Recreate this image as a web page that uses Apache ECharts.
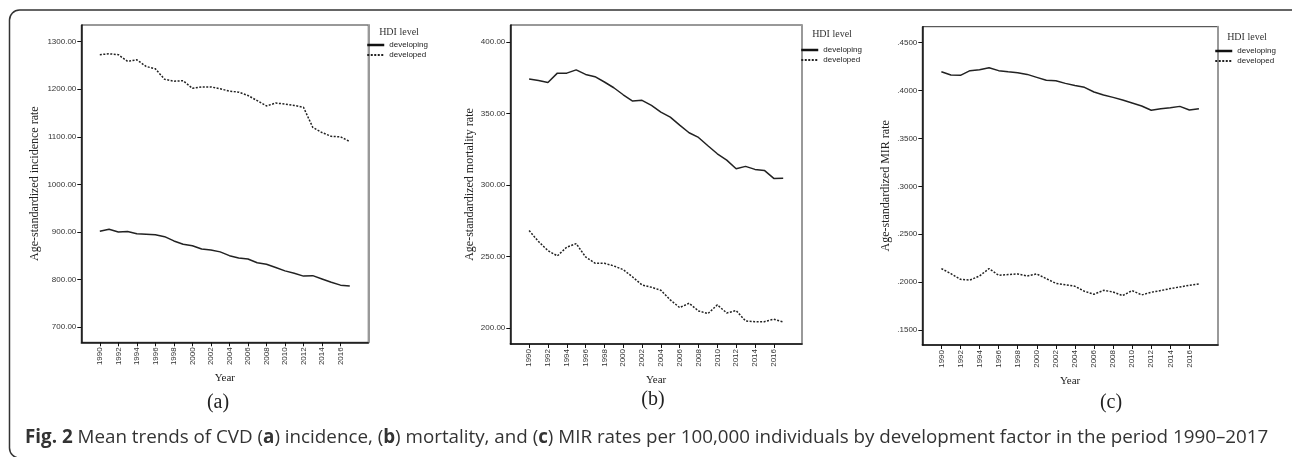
<!DOCTYPE html>
<html>
<head>
<meta charset="utf-8">
<script src="https://cdn.jsdelivr.net/npm/echarts@6/dist/echarts.min.js"></script>
<style>
  html, body { margin: 0; padding: 0; background: #fff; }
  #chart { width: 1292px; height: 457px; }
</style>
</head>
<body>
<div id="chart"></div>
<script>
var years = [1990, 1991, 1992, 1993, 1994, 1995, 1996, 1997, 1998, 1999, 2000, 2001, 2002, 2003,
             2004, 2005, 2006, 2007, 2008, 2009, 2010, 2011, 2012, 2013, 2014, 2015, 2016, 2017];
var yearTicks = [1990, 1992, 1994, 1996, 1998, 2000, 2002, 2004, 2006, 2008, 2010, 2012, 2014, 2016];

var incidenceDeveloping = [901.4, 905.5, 900, 901, 896, 895, 894, 890, 881, 874, 871, 864, 862, 858,
                           850, 845, 843, 835, 832, 825, 818, 813, 807, 808, 801, 794, 788, 786];
var incidenceDeveloped = [1272.7, 1274.7, 1272.7, 1258.7, 1262, 1248, 1243, 1221, 1217, 1218, 1202, 1205, 1205, 1201,
                          1196, 1194, 1187, 1176, 1165, 1171, 1169, 1166, 1162, 1120, 1109, 1101, 1100, 1090];
var mortalityDeveloping = [374.0, 373.0, 371.6, 378.1, 378.1, 380.4, 377.2, 375.6, 371.9, 367.9, 363.0, 358.6, 359.1, 355.6,
                           350.9, 347.4, 341.8, 336.5, 333.2, 327.4, 321.8, 317.4, 311.3, 313.0, 310.9, 310.2, 304.6, 304.8];
var mortalityDeveloped = [268.2, 260.5, 254.2, 250.5, 256.6, 259.1, 249.8, 245.4, 245.4, 243.5, 240.9, 235.8, 230.2, 228.6,
                          226.5, 219.8, 214.4, 217.5, 212.1, 210.2, 216.3, 210.7, 212.3, 205.1, 204.6, 204.6, 206.3, 204.4];
var mirDeveloping = [0.4197, 0.4162, 0.4159, 0.4208, 0.4218, 0.4239, 0.4208, 0.4197, 0.4187, 0.4169, 0.4138, 0.4107, 0.4103, 0.4075,
                     0.4054, 0.4034, 0.3985, 0.3954, 0.3929, 0.3901, 0.3870, 0.3839, 0.3794, 0.3811, 0.3821, 0.3835, 0.3797, 0.3811];
var mirDeveloped = [0.2141, 0.2088, 0.2029, 0.2022, 0.2064, 0.2141, 0.2071, 0.2078, 0.2085, 0.2064, 0.2085, 0.2036, 0.1987, 0.1973,
                    0.1956, 0.1904, 0.1873, 0.1914, 0.1897, 0.1859, 0.1911, 0.1866, 0.1894, 0.1911, 0.1932, 0.1949, 0.1967, 0.1981];

var incidenceTicks = [700, 800, 900, 1000, 1100, 1200, 1300];
var mortalityTicks = [200, 250, 300, 350, 400];
var mirTicks = [0.15, 0.20, 0.25, 0.30, 0.35, 0.40, 0.45];

var seriesNames = ['developing', 'developed'];
var yTitles = ['Age-standardized incidence rate', 'Age-standardized mortality rate', 'Age-standardized MIR rate'];
var panelLabels = ['(a)', '(b)', '(c)'];
var legendTitle = 'HDI level';
var caption = 'Mean trends of CVD ({b|a}) incidence, ({b|b}) mortality, and ({b|c}) MIR rates per 100,000 individuals by development factor in the period 1990\u20132017';

var serif = '"Liberation Serif", "DejaVu Serif", serif';
var sans = '"Liberation Sans", Arial, sans-serif';

function pairs(vals) {
    var out = [];
    for (var i = 0; i < years.length; i++) {
        out.push([years[i], vals[i]]);
    }
    return out;
}

// panel boxes
var panels = [
    {left: 81.3, top: 25, width: 287, height: 317.3, min: 667.8, max: 1335.2, ticks: incidenceTicks, dec: 2, nameGap: 40,
     legendLeft: 366, legendTop: 41, hdiX: 399, hdiY: 32, tagX: 218, tagY: 403,
     lines: [incidenceDeveloping, incidenceDeveloped]},
    {left: 510.3, top: 25, width: 291.7, height: 319, min: 189.0, max: 411.7, ticks: mortalityTicks, dec: 2, nameGap: 34,
     legendLeft: 800, legendTop: 46, hdiX: 832, hdiY: 34, tagX: 653, tagY: 400,
     lines: [mortalityDeveloping, mortalityDeveloped]},
    {left: 922.3, top: 26.7, width: 295.7, height: 318.3, min: 0.1343, max: 0.4667, ticks: mirTicks, dec: 4, nameGap: 30,
     legendLeft: 1214, legendTop: 47, hdiX: 1247, hdiY: 37, tagX: 1111, tagY: 403,
     lines: [mirDeveloping, mirDeveloped]}
];

var grids = [], xAxes = [], yAxes = [], series = [], legends = [], graphics = [];

panels.forEach(function (p, k) {
    grids.push({
        left: p.left, top: p.top, width: p.width, height: p.height,
        show: true, borderColor: '#333', borderWidth: 1
    });
    xAxes.push({
        gridIndex: k, type: 'value', min: 1988, max: 2019,
        name: 'Year', nameLocation: 'middle', nameGap: 28,
        nameTextStyle: {fontFamily: serif, fontSize: 11, color: '#222'},
        splitLine: {show: false},
        axisLine: {lineStyle: {color: '#111', width: 1.5}},
        axisTick: {customValues: yearTicks, length: 4, lineStyle: {color: '#111'}},
        axisLabel: {
            customValues: yearTicks, rotate: 90, margin: 5,
            fontFamily: sans, fontSize: 8, color: '#333',
            formatter: function (v) { return String(v); }
        }
    });
    var dec = p.dec;
    yAxes.push({
        gridIndex: k, type: 'value', min: p.min, max: p.max,
        name: yTitles[k], nameLocation: 'middle', nameGap: p.nameGap,
        nameTextStyle: {fontFamily: serif, fontSize: 12, color: '#222'},
        splitLine: {show: false},
        axisLine: {show: true, lineStyle: {color: '#111', width: 1.5}},
        axisTick: {show: true, customValues: p.ticks, length: 4, lineStyle: {color: '#111'}},
        axisLabel: {
            customValues: p.ticks, margin: 5,
            fontFamily: sans, fontSize: 8, color: '#333',
            formatter: function (v) {
                var s = v.toFixed(dec);
                return dec === 4 ? s.replace(/^0/, '') : s;
            }
        }
    });
    // grey right edge of the box
    yAxes.push({
        gridIndex: k, type: 'value', min: p.min, max: p.max, position: 'right',
        splitLine: {show: false},
        axisLine: {show: true, lineStyle: {color: '#999', width: 2}},
        axisTick: {show: false}, axisLabel: {show: false}
    });
    series.push({
        name: seriesNames[0], type: 'line', xAxisIndex: k, yAxisIndex: k * 2,
        data: pairs(p.lines[0]), showSymbol: false, symbol: 'none', silent: true,
        lineStyle: {color: '#222', width: 1.5}, itemStyle: {color: '#222'}
    });
    series.push({
        name: seriesNames[1], type: 'line', xAxisIndex: k, yAxisIndex: k * 2,
        data: pairs(p.lines[1]), showSymbol: false, symbol: 'none', silent: true,
        lineStyle: {color: '#222', width: 1.5, type: [2, 1.5]}, itemStyle: {color: '#222'}
    });
    legends.push({
        data: [
            {name: seriesNames[0], lineStyle: {width: 2.5, color: '#111'}},
            {name: seriesNames[1]}
        ],
        orient: 'vertical', left: p.legendLeft, top: p.legendTop,
        itemWidth: 17, itemHeight: 8, itemGap: 2, padding: 0,
        itemStyle: {color: 'rgba(0,0,0,0)', borderWidth: 0, opacity: 0},
        textStyle: {fontFamily: sans, fontSize: 8, color: '#222'},
        selectedMode: false
    });
    graphics.push({
        type: 'text', x: p.hdiX, y: p.hdiY,
        style: {text: legendTitle, fontFamily: serif, fontSize: 10, fill: '#333',
                align: 'center', verticalAlign: 'middle'}
    });
    graphics.push({
        type: 'text', x: p.tagX, y: p.tagY,
        style: {text: panelLabels[k], fontFamily: serif, fontSize: 20, fill: '#222',
                align: 'center', verticalAlign: 'middle'}
    });
});

// frame round the figure
graphics.push({
    type: 'rect', shape: {x: 9.5, y: 10, width: 1400, height: 448, r: 10},
    style: {fill: 'none', stroke: '#333', lineWidth: 1.5}, silent: true
});

var myChart = echarts.init(document.getElementById('chart'));
var option = {
    animation: false,
    title: {
        text: '{b|Fig. 2} ' + caption,
        left: 25, top: 428, padding: 0,
        textStyle: {
            fontFamily: '"Open Sans", sans-serif', fontSize: 18.8, fontWeight: 'normal', color: '#333',
            rich: {b: {fontFamily: '"Open Sans", sans-serif', fontSize: 18.8, fontWeight: 'bold', color: '#333'}}
        }
    },
    legend: legends,
    grid: grids,
    xAxis: xAxes,
    yAxis: yAxes,
    series: series,
    graphic: graphics
};
myChart.setOption(option);
</script>
</body>
</html>
